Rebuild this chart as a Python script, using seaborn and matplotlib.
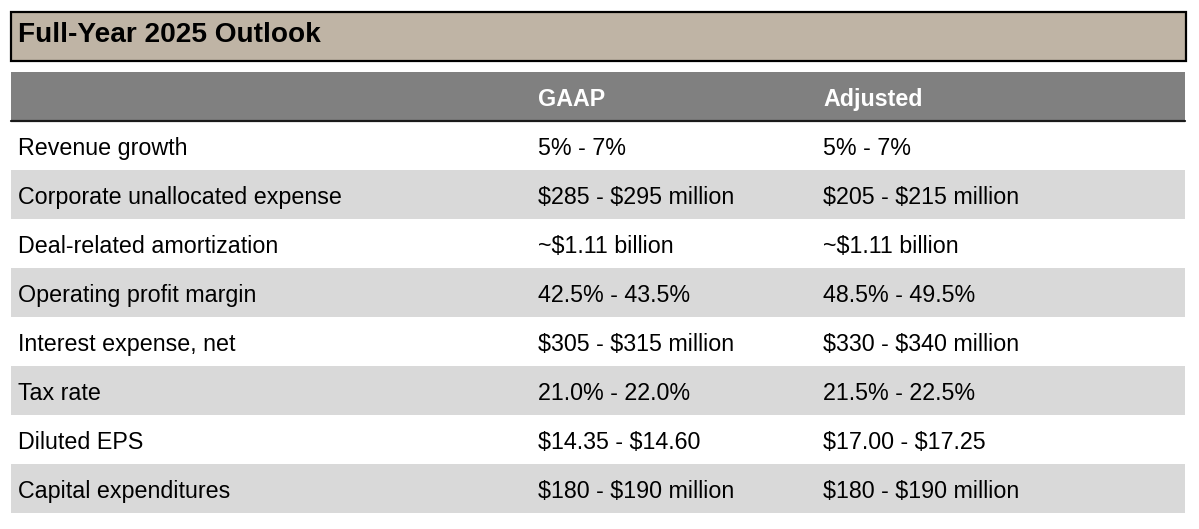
import numpy as np
import pandas as pd
import matplotlib
matplotlib.use("Agg")
import matplotlib.pyplot as plt
from matplotlib.colors import ListedColormap
from matplotlib.patches import Rectangle
import seaborn as sns

#**************************************#
            # table data
#**************************************#
title = "Full-Year 2025 Outlook"
columns = ["GAAP", "Adjusted"]
metrics = ["Revenue growth", "Corporate unallocated expense", "Deal-related amortization",
           "Operating profit margin", "Interest expense, net", "Tax rate",
           "Diluted EPS", "Capital expenditures"]
gaap = ["5% - 7%", "$285 - $295 million", "~$1.11 billion", "42.5% - 43.5%",
        "$305 - $315 million", "21.0% - 22.0%", "$14.35 - $14.60", "$180 - $190 million"]
adjusted = ["5% - 7%", "$205 - $215 million", "~$1.11 billion", "48.5% - 49.5%",
            "$330 - $340 million", "21.5% - 22.5%", "$17.00 - $17.25", "$180 - $190 million"]

sns.set_theme(style="white")
plt.rcParams['font.family'] = ['Liberation Sans', 'DejaVu Sans']
plt.rcParams['text.parse_math'] = False  # keep the $ signs literal

W, H = 1199, 529
fig = plt.figure(figsize=(W / 100, H / 100), dpi=100)

# striped body drawn as heatmap (0 = white, 1 = light gray)
left, right = 11, 1185
top_body, bottom_body = 121, 513
shade = pd.DataFrame([[i % 2] * 3 for i in range(len(metrics))], index=metrics,
                     columns=["Metric"] + columns)
hm_ax = fig.add_axes([left / W, 1 - bottom_body / H, (right - left) / W, (bottom_body - top_body) / H])
sns.heatmap(shade, ax=hm_ax, cmap=ListedColormap(["#FFFFFF", "#D9D9D9"]), vmin=0, vmax=1,
            cbar=False, xticklabels=False, yticklabels=False, linewidths=0)
hm_ax.set_xlabel("")
hm_ax.set_ylabel("")

# overlay in pixel coords
ax = fig.add_axes([0, 0, 1, 1])
ax.set_xlim(0, W)
ax.set_ylim(H, 0)
ax.axis("off")
ax.patch.set_alpha(0)

# title box
ax.add_patch(Rectangle((11, 12), 1175, 49, facecolor="#BFB4A5", edgecolor="black", linewidth=1.6))
ax.text(18, 42, title, fontsize=20.2, fontweight="bold", color="black", va="baseline", ha="left")

# header band
ax.add_patch(Rectangle((left, 72), right - left, 49, facecolor="#808080", edgecolor="none"))
ax.plot([left, right], [121, 121], color="#1A1A1A", linewidth=1.6)
col_x = [538, 823]
fs = 16.75
for x, c in zip(col_x, columns):
    ax.text(x, 106, c, fontsize=fs, fontweight="bold", color="white", va="baseline", ha="left")

# body text
row_h = 49
for i, (m, g, a) in enumerate(zip(metrics, gaap, adjusted)):
    y = top_body + i * row_h + 34
    ax.text(18, y, m, fontsize=fs, color="black", va="baseline", ha="left")
    ax.text(col_x[0], y, g, fontsize=fs, color="black", va="baseline", ha="left")
    ax.text(col_x[1], y, a, fontsize=fs, color="black", va="baseline", ha="left")

plt.savefig("out.png", dpi=100)
plt.close()
